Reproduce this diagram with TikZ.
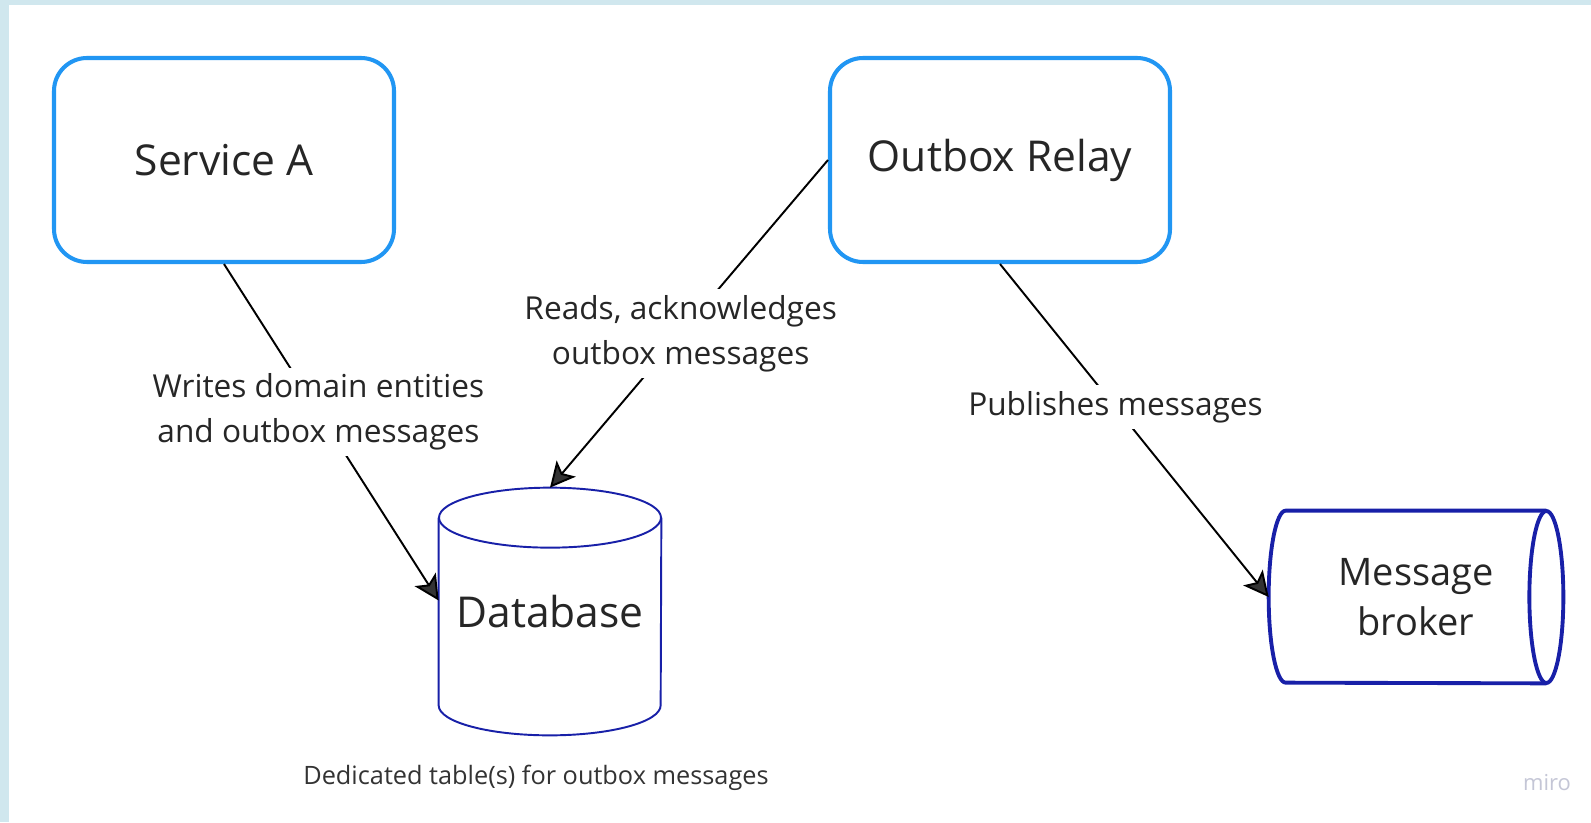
\documentclass[tikz,border=0pt]{standalone}
\usepackage{fontspec}
\setmainfont{Open Sans}
\usetikzlibrary{arrows.meta,positioning}
\definecolor{boxblue}{RGB}{33,150,243}
\definecolor{cylblue}{RGB}{24,32,168}
\definecolor{frameblue}{RGB}{208,231,238}
\definecolor{miroGrey}{RGB}{196,198,214}
\tikzstyle{service}=[draw=boxblue,
                     line width=2.3pt,
                     rounded corners=0.66cm,
                     minimum width=6.8cm,
                     minimum height=4.08cm,
                     text=black!85,
                     font=\fontsize{24.2}{28}\selectfont]
\tikzstyle{store}=[minimum width=4.44cm, minimum height=4.94cm, text=black!85,
                   font=\fontsize{24.2}{28}\selectfont]
\tikzstyle{queue}=[minimum width=5.88cm, minimum height=3.44cm, align=center, text=black!85,
                   font=\fontsize{21.6}{28.3}\selectfont]
\tikzstyle{cyl}=[draw=cylblue]
\tikzstyle{lbl}=[fill=white, align=center, inner sep=0.12cm, text=black!85,
                 font=\fontsize{18}{25.5}\selectfont]
\tikzstyle{flow}=[line width=1.1pt, -{Stealth[length=0.5cm,width=0.5cm,inset=0.12cm,fill=black!80]}]

\begin{document}
\begin{tikzpicture}
    % frame
    \fill[frameblue] (0,0) rectangle (31.82,16.44);
    \fill[white] (0.18,0) rectangle (31.82,16.34);
    \useasboundingbox (0,0) rectangle (31.82,16.44);

    \node[service] (svcA) at (4.48,13.24) {Service A};
    \node[service, right of=svcA, node distance=15.52cm] (relay) {Outbox Relay};
    \node[store] (db) at (11.0,4.21) {Database};
    \node[queue] (broker) at (28.32,4.5) {Message\\broker};
    \node[below of=db, node distance=3.33cm, xshift=-0.28cm, text=black!80,
          font=\fontsize{14.4}{17}\selectfont] (dbnote) {Dedicated table(s) for outbox messages};
    \node[text=miroGrey, font=\fontsize{12.5}{14}\selectfont] (miro) at (30.94,0.78) {miro};

    % database cylinder
    \draw[cyl, line width=1.1pt] ([yshift=-0.6cm]db.north west) -- ([yshift=0.6cm]db.south west)
        arc[start angle=180, end angle=360, x radius=2.22cm, y radius=0.6cm]
        -- ([yshift=-0.6cm]db.north east);
    \draw[cyl, line width=1.1pt] ([yshift=-0.6cm]db.north) ellipse [x radius=2.22cm, y radius=0.6cm];

    % broker cylinder
    \draw[cyl, line width=2.2pt] ([xshift=-0.34cm]broker.north east) -- ([xshift=0.34cm]broker.north west)
        arc[start angle=90, end angle=270, x radius=0.34cm, y radius=1.72cm]
        -- ([xshift=-0.34cm]broker.south east);
    \draw[cyl, line width=2.2pt] ([xshift=-0.34cm]broker.east) ellipse [x radius=0.34cm, y radius=1.72cm];

    \draw[flow] (svcA.south) -- ([yshift=0.22cm]db.west)
        node[lbl, pos=0.44] (writes) {Writes domain entities\\and outbox messages};
    \draw[flow] (relay.west) -- (db.north)
        node[lbl, pos=0.53] (reads) {Reads, acknowledges\\outbox messages};
    \draw[flow] (relay.south) -- (broker.west)
        node[lbl, pos=0.43] (publishes) {Publishes messages};
\end{tikzpicture}
\end{document}
